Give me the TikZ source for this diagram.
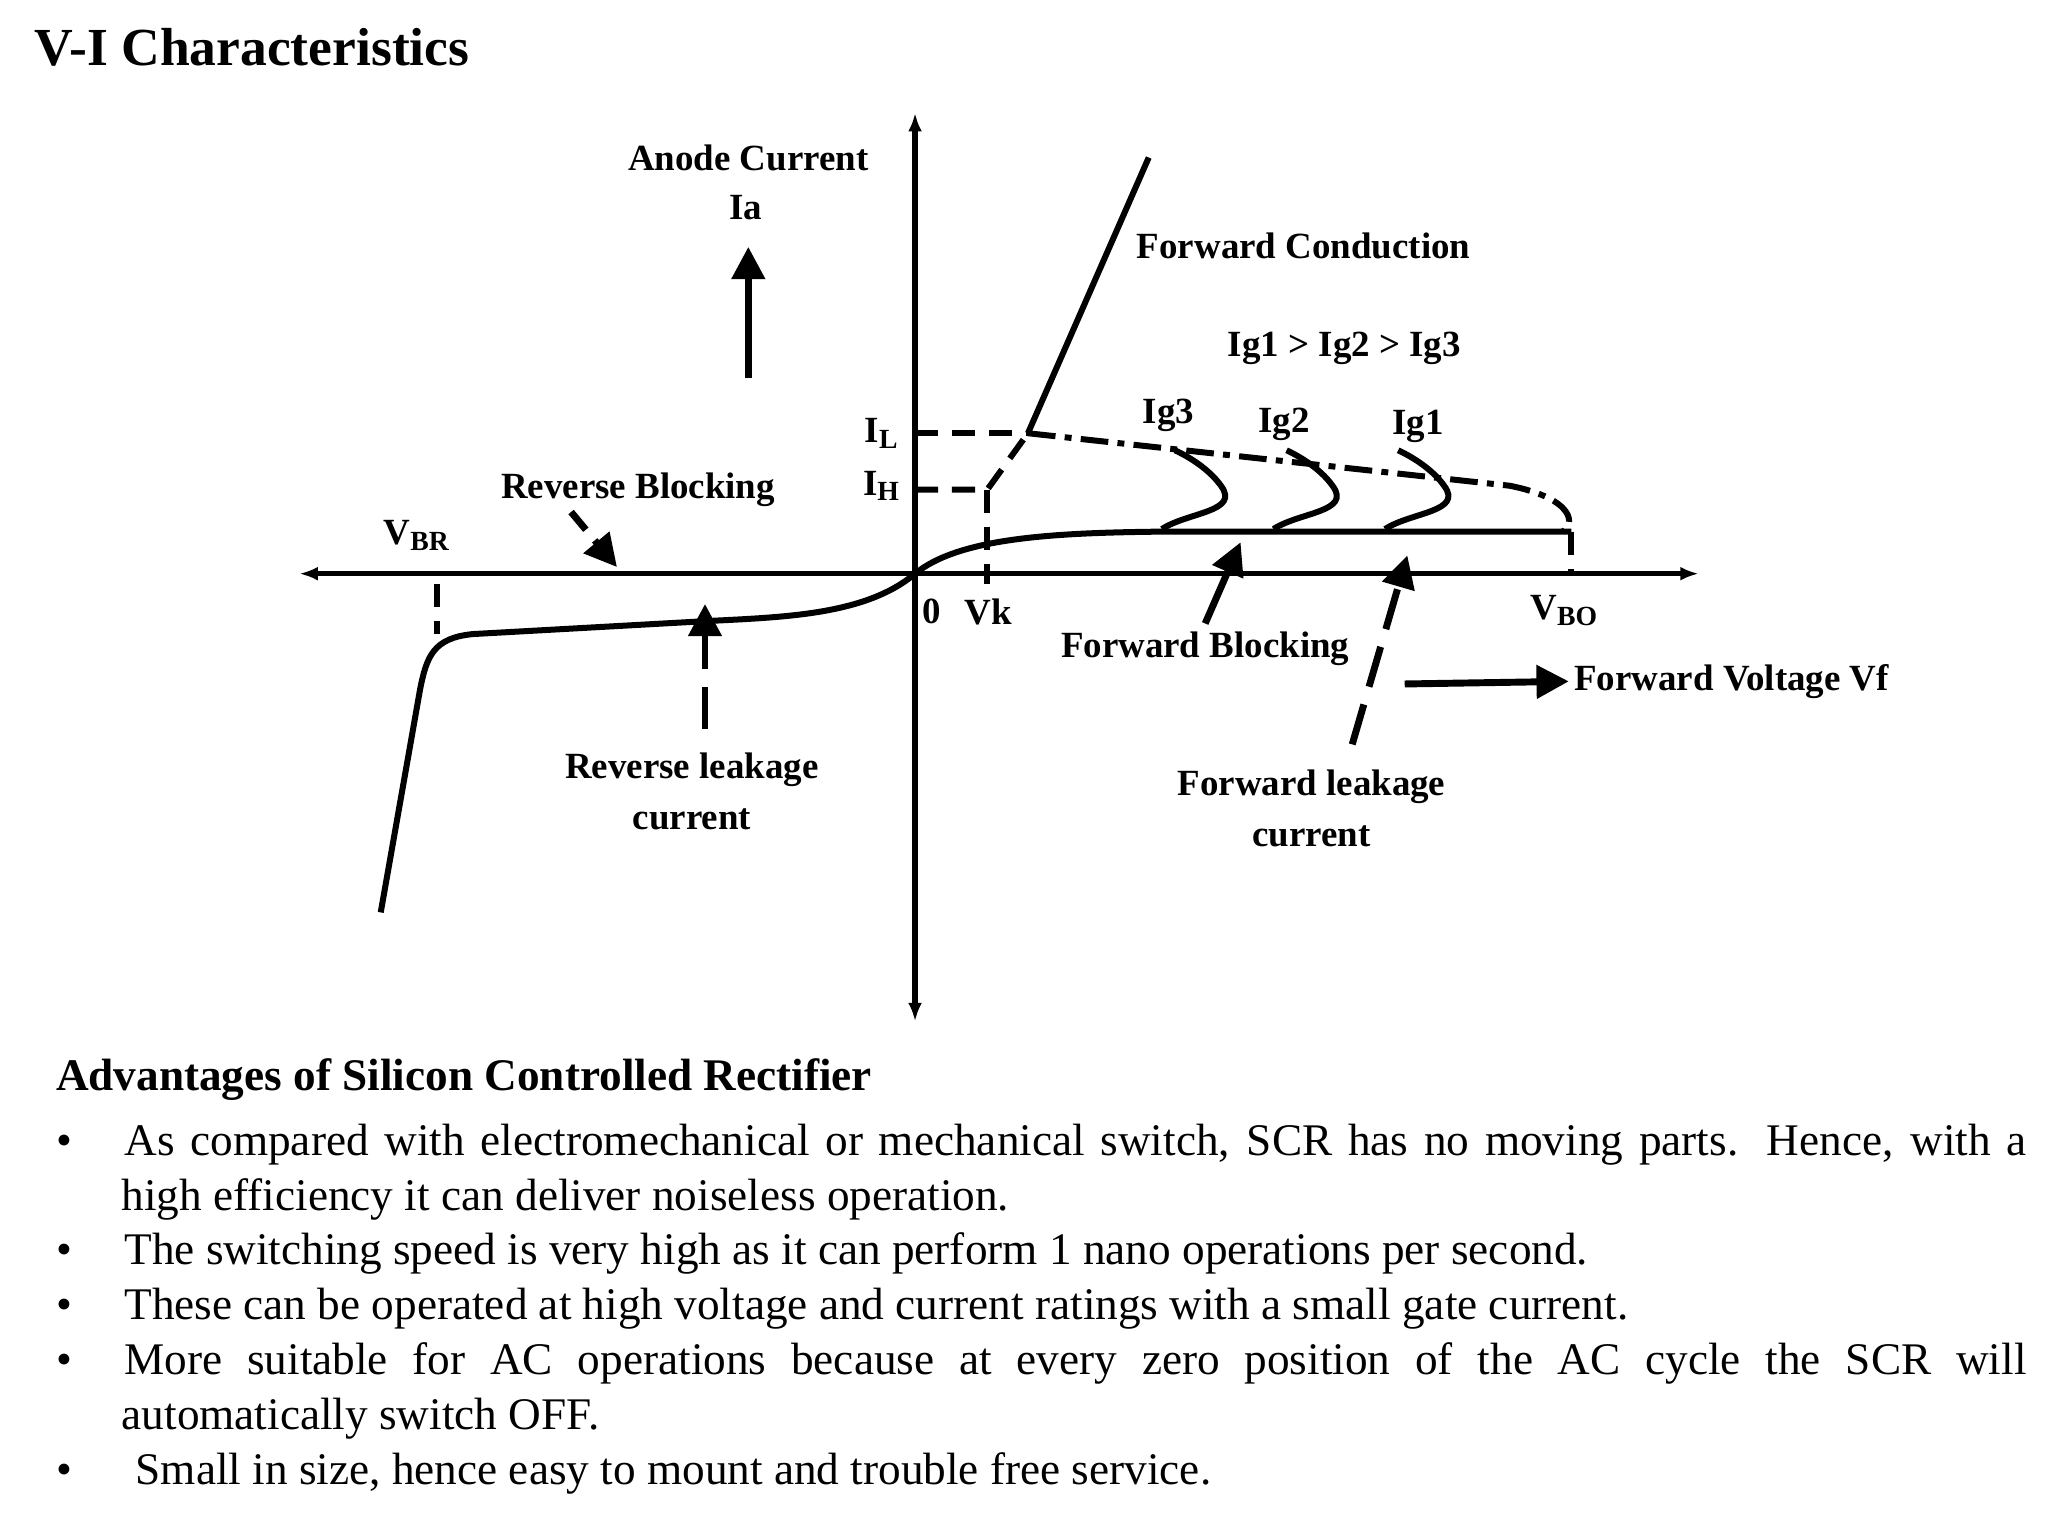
\documentclass[tikz,border=0pt]{standalone}
\usepackage{fontspec}
\setmainfont{Liberation Serif}
\usetikzlibrary{arrows.meta}
\begin{document}
\begin{tikzpicture}[x=0.01cm,y=-0.01cm,
  lbl/.style={font=\fontsize{8}{9}\selectfont\bfseries,inner sep=1pt},
  curve/.style={line width=1.3pt},
  dsh/.style={line width=1.3pt,dash pattern=on 5pt off 3pt},
  dd/.style={line width=1.3pt,dash pattern=on 6pt off 2pt on 1.5pt off 2pt},
  arr/.style={line width=1.5pt,-{Triangle[length=7pt,width=7pt]}}]
\useasboundingbox (0,0) rectangle (1560,1170);
% title
\node[anchor=west,font=\fontsize{11.6}{14}\selectfont\bfseries] (title) at (14,36) {V-I Characteristics};
% axes
\draw[line width=1.2pt,{Latex[length=4pt]}-{Latex[length=4pt]}] (228,437) -- (1294,437);
\draw[line width=1.2pt,{Latex[length=4pt]}-{Latex[length=4pt]}] (697,86) -- (697,778);
% reverse characteristic
\draw[curve] (697,437) .. controls (660,468) and (600,470) .. (540,473)
  -- (360,483) .. controls (330,486) and (325,500) .. (320,525) -- (290,695);
\draw[dsh] (333,445) -- (333,483);
% forward blocking
\draw[curve] (697,437) .. controls (730,410) and (800,406) .. (880,405) -- (1197,405);
\draw[dd] (783,330) -- (1150,370) .. controls (1200,380) and (1200,400) .. (1190,405);
\draw[dsh] (1197,405) -- (1197,437);
% Ig loops
\foreach \x in {885,970,1055}{
  \draw[curve] (\x,403) .. controls (\x+20,390) and (\x+60,390) .. (\x+45,370)
    .. controls (\x+38,360) and (\x+25,350) .. (\x+10,343);
}
% conduction
\draw[dsh] (697,330) -- (783,330);
\draw[dsh] (697,373) -- (752,373) -- (783,330);
\draw[dsh] (752,373) -- (752,445);
\draw[curve] (783,330) -- (875,120);
% labels
\node[lbl] (anode) at (570,120) {Anode Current};
\node[lbl] (ia) at (568,158) {Ia};
\coordinate (iaT) at (570,188);
\coordinate (iaB) at (570,288);
\draw[arr] (iaB) -- (iaT);
\node[lbl] (fc) at (993,187) {Forward Conduction};
\node[lbl] (ineq) at (1024,265) {Ig1 > Ig2 > Ig3};
\node[lbl] (ig3) at (890,316) {Ig3};
\node[lbl] (ig2) at (978,323) {Ig2};
\node[lbl] (ig1) at (1080,325) {Ig1};
\node[lbl] (il) at (672,330) {I\textsubscript{L}};
\node[lbl] (ih) at (672,370) {I\textsubscript{H}};
\node[lbl] (rb) at (486,373) {Reverse Blocking};
\coordinate (rbT) at (470,432);
\draw[arr,dash pattern=on 5pt off 3pt] (435,390) -- (rbT);
\node[lbl] (vbr) at (318,408) {V\textsubscript{BR}};
\node[lbl] (zero) at (710,466) {0};
\node[lbl] (vk) at (753,466) {Vk};
\node[lbl] (vbo) at (1192,465) {V\textsubscript{BO}};
\node[lbl] (fb) at (918,494) {Forward Blocking};
\coordinate (fbT) at (945,413);
\draw[arr] (fb.north) ++(0,-2) -- (fbT);
\node[lbl,align=center] (fl) at (999,616) {Forward leakage\\[2pt]current};
\coordinate (flT) at (1072,423);
\coordinate (flB) at (1030,567);
\draw[arr,dash pattern=on 9pt off 4pt] (flB) -- (flT);
\node[lbl,align=center] (rl) at (527,603) {Reverse leakage\\[2pt]current};
\coordinate (rlT) at (537,460);
\coordinate (rlB) at (537,555);
\draw[arr,dash pattern=on 9pt off 4pt] (rlB) -- (rlT);
\node[lbl,anchor=west] (fv) at (1195,519) {Forward Voltage Vf};
\coordinate (fvL) at (1070,521);
\draw[arr] (fvL) -- (fv.west);
% text block
\node[anchor=north west,inner sep=0pt,text width=15.0cm,align=justify,font=\fontsize{9.8}{11.9}\selectfont] (txt) at (42,806) {%
\textbf{Advantages of Silicon Controlled Rectifier}\par
\begin{list}{\textbullet}{\leftmargin=0.5cm\labelwidth=0.1cm\labelsep=0.4cm\itemsep=0pt\parsep=0pt\topsep=0pt}
\item As compared with electromechanical or mechanical switch, SCR has no moving parts. Hence, with a\linebreak high efficiency it can deliver noiseless operation.
\item The switching speed is very high as it can perform 1 nano operations per second.
\item These can be operated at high voltage and current ratings with a small gate current.
\item More suitable for AC operations because at every zero position of the AC cycle the SCR will\linebreak automatically switch OFF.
\item \ Small in size, hence easy to mount and trouble free service.
\end{list}};
\end{tikzpicture}
\end{document}
